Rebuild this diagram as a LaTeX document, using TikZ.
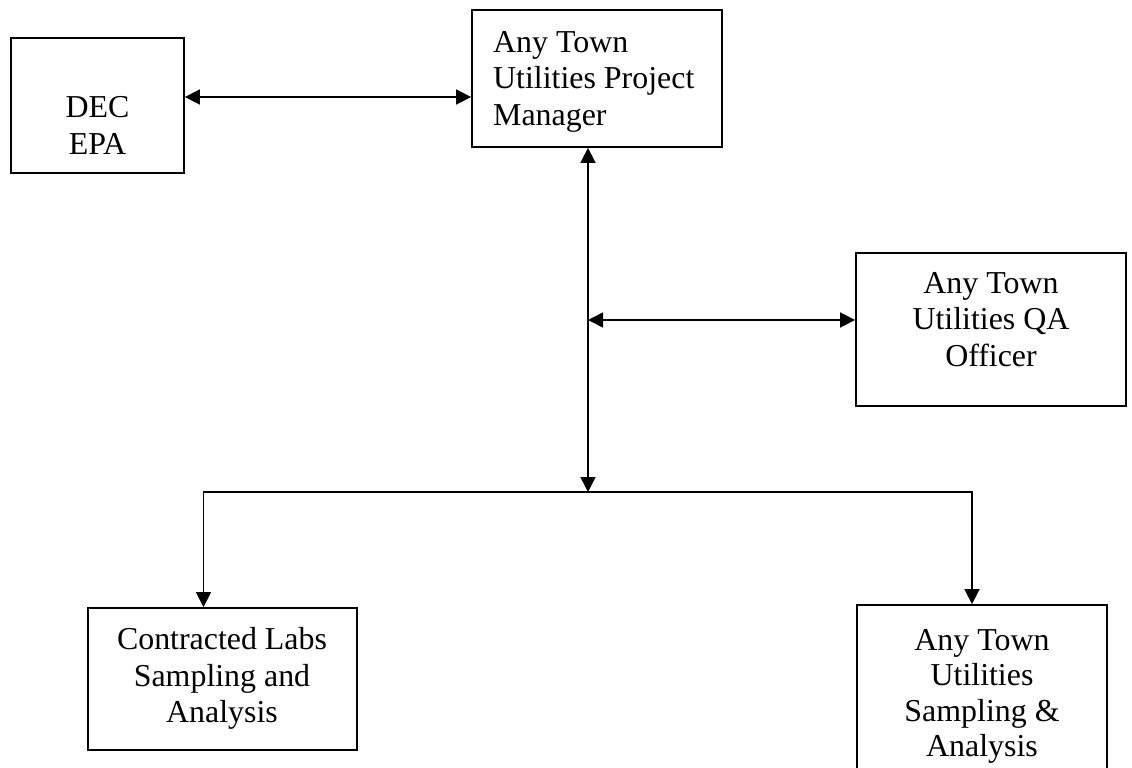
\documentclass[tikz,border=0pt]{standalone}
\usepackage{fontspec}
\setmainfont{Liberation Serif}
\usetikzlibrary{arrows.meta}
\tikzset{
  box/.style={draw, line width=1.8pt, rectangle, inner sep=0pt},
  txt/.style={inner sep=0pt, align=center, anchor=north, font=\fontsize{31.9}{36.7}\selectfont},
  conn/.style={line width=1.6pt},
  arr/.style={conn, -{Triangle[length=15pt,width=15pt]}},
  darr/.style={conn, {Triangle[length=15pt,width=15pt]}-{Triangle[length=15pt,width=15pt]}}
}
\begin{document}
\begin{tikzpicture}[x=1pt,y=-1pt]
\useasboundingbox (0,0) rectangle (1132,768);
\clip (0,0) rectangle (1132,768);
\fill[white] (0,0) rectangle (1132,768);
% boxes
\node[box, minimum width=173pt, minimum height=135pt] (dec) at (97.5,105.5) {};
\node[box, minimum width=250pt, minimum height=137pt] (pm) at (597,78.5) {};
\node[box, minimum width=270pt, minimum height=153pt] (qa) at (991,329.5) {};
\node[box, minimum width=269pt, minimum height=142pt] (lab) at (222.5,679) {};
\node[box, minimum width=250pt, minimum height=195pt] (sa) at (982,702.5) {};
% texts
\node[txt] (dect) at (97.5,96) {DEC\\EPA};
\node[txt, align=left, anchor=north west] (pmt) at (493,31) {Any Town\\Utilities Project\\Manager};
\node[txt] (qat) at (991,272) {Any Town\\Utilities QA\\Officer};
\node[txt] (labt) at (222,627) {Contracted Labs\\Sampling and\\Analysis};
\node[txt, font=\fontsize{31.9}{35.5}\selectfont] (sat) at (982,629) {Any Town\\Utilities\\Sampling \&\\Analysis};
% connector points
\coordinate (qaj) at (588,320);
\coordinate (junc) at (588,492);
% connectors
\draw[darr] (dec.east |- 0,97) -- (pm.west |- 0,97);
\draw[darr] (pm.south -| junc) -- (junc);
\draw[darr] (qaj) -- (qa.west |- qaj);
\draw[arr] (junc) -| (lab.north -| 203.5,0);
\draw[arr] (junc) -| (sa.north -| 972,0);
\end{tikzpicture}
\end{document}
